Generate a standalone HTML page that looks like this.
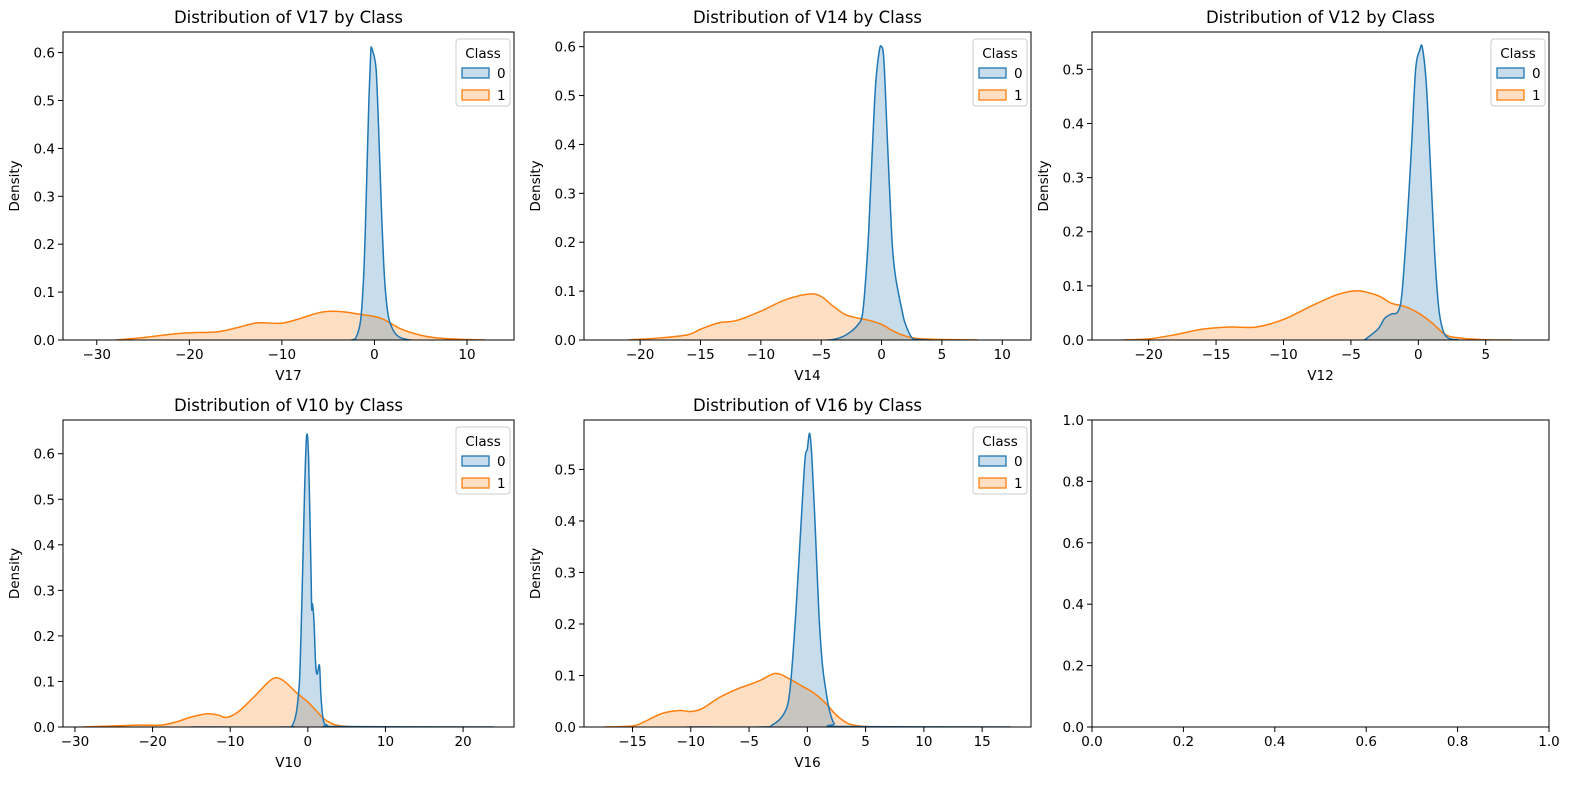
<!DOCTYPE html>
<html><head><meta charset="utf-8">
<style>
html,body{margin:0;padding:0;background:#fff;}
svg{display:block;font-family:"DejaVu Sans","Liberation Sans",sans-serif;}
</style></head>
<body>
<svg id="fig" width="1589" height="790" viewBox="0 0 1589 790"></svg>
<script>
// ---- Data ----
const v17_c0_x=[-2.5,-2,-1.5,-1.2,-1,-0.8,-0.6,-0.4,-0.3,-0.15,0,0.2,0.4,0.6,0.8,1,1.2,1.5,1.8,2.2,2.7,3.5,4];
const v17_c0_y=[0,0.005,0.04,0.12,0.22,0.36,0.5,0.6,0.61,0.6,0.59,0.56,0.47,0.36,0.25,0.16,0.1,0.05,0.03,0.015,0.006,0.001,0];
const v17_c1_x=[-28,-25,-22,-20,-17,-15,-13,-12,-10,-8,-6,-4.5,-3,-1,0,1,2,3,5,7,10,12];
const v17_c1_y=[0,0.005,0.012,0.015,0.017,0.025,0.035,0.036,0.035,0.045,0.057,0.06,0.058,0.052,0.049,0.043,0.032,0.022,0.01,0.004,0.001,0];

const v14_c0_x=[-4.5,-4,-3.2,-2.5,-2,-1.6,-1.34,-1.07,-0.8,-0.5,-0.2,0,0.2,0.5,0.85,1.1,1.4,1.7,1.94,2.5,3,4];
const v14_c0_y=[0,0.001,0.007,0.018,0.03,0.05,0.116,0.22,0.37,0.52,0.59,0.6,0.57,0.4,0.21,0.14,0.096,0.06,0.035,0.005,0.001,0];
const v14_c1_x=[-21,-18,-16,-15,-13.5,-12,-10,-8,-6,-5,-4,-3,-2,-1,0,1,2,3,5,8];
const v14_c1_y=[0,0.005,0.011,0.022,0.035,0.04,0.059,0.082,0.094,0.089,0.069,0.052,0.045,0.04,0.032,0.018,0.008,0.003,0.001,0];

const v12_c0_x=[-4,-3,-2.5,-2,-1.5,-1.2,-0.8,-0.5,-0.2,0.1,0.3,0.6,0.9,1.2,1.5,1.8,2.2,3];
const v12_c0_y=[0,0.02,0.04,0.048,0.053,0.09,0.23,0.36,0.5,0.535,0.54,0.47,0.32,0.166,0.062,0.02,0.004,0];
const v12_c1_x=[-22,-20,-18,-16,-14,-12,-10,-8,-6,-4.5,-3,-2,-1,0,1,2,3,5,7];
const v12_c1_y=[0,0.002,0.01,0.02,0.024,0.024,0.038,0.062,0.084,0.091,0.082,0.068,0.062,0.05,0.032,0.01,0.004,0.0005,0];

const v10_c0_x=[-15,-3,-2,-1.5,-1.2,-1,-0.7,-0.4,-0.15,0.1,0.4,0.5,0.6,0.8,1,1.2,1.5,1.7,2,2.5,4,24];
const v10_c0_y=[0,0,0.004,0.03,0.073,0.13,0.32,0.53,0.64,0.59,0.35,0.26,0.27,0.23,0.14,0.116,0.135,0.065,0.015,0.004,0.001,0];
const v10_c1_x=[-29,-22,-19,-17,-15,-13,-11.5,-10.5,-9,-7,-5,-4,-3,-1.5,0,1,2,3,4,6];
const v10_c1_y=[0,0.004,0.004,0.011,0.022,0.029,0.026,0.021,0.033,0.065,0.1,0.108,0.1,0.076,0.055,0.037,0.019,0.008,0.003,0];

const v16_c0_x=[-10.3,-4,-3,-2,-1.5,-1,-0.5,-0.2,0,0.2,0.4,0.7,1,1.3,1.6,1.9,2.3,3,17.5];
const v16_c0_y=[0,0,0.004,0.026,0.07,0.217,0.41,0.52,0.54,0.57,0.52,0.376,0.217,0.12,0.07,0.032,0.007,0.001,0];
const v16_c1_x=[-17.4,-15,-14,-12.5,-11,-10,-9,-7.5,-6,-5,-4,-2.7,-1.5,-0.5,0.5,1.5,2.5,3.5,4.5,6];
const v16_c1_y=[0,0.002,0.01,0.026,0.032,0.03,0.036,0.058,0.074,0.082,0.091,0.104,0.093,0.08,0.067,0.048,0.023,0.007,0.002,0];

const v17_xticks=[-30,-20,-10,0,10];
const v14_xticks=[-20,-15,-10,-5,0,5,10];
const v12_xticks=[-20,-15,-10,-5,0,5];
const v10_xticks=[-30,-20,-10,0,10,20];
const v16_xticks=[-15,-10,-5,0,5,10,15];
const d06_yticks=[0,0.1,0.2,0.3,0.4,0.5,0.6];
const d05_yticks=[0,0.1,0.2,0.3,0.4,0.5];
const unit_ticks=[0,0.2,0.4,0.6,0.8,1.0];

// ---- Layout ----
const NS="http://www.w3.org/2000/svg";
const svg=document.getElementById('fig');
function mk(tag,attrs,parent){const e=document.createElementNS(NS,tag);for(const k in attrs)e.setAttribute(k,attrs[k]);(parent||svg).appendChild(e);return e;}
function fmt(v,dec){let s=v.toFixed(dec);if(v<0)s='\u2212'+s.slice(1);return s;}

const panels=[
 {id:'v17',box:[63,32,514,340],xd:[-33.65,15.08],yd:[0,0.643],xt:v17_xticks,yt:d06_yticks,c0:[v17_c0_x,v17_c0_y],c1:[v17_c1_x,v17_c1_y],label:'V17'},
 {id:'v14',box:[584,32,1031,340],xd:[-24.65,12.38],yd:[0,0.630],xt:v14_xticks,yt:d06_yticks,c0:[v14_c0_x,v14_c0_y],c1:[v14_c1_x,v14_c1_y],label:'V14'},
 {id:'v12',box:[1092,32,1549,340],xd:[-24.2,9.69],yd:[0,0.569],xt:v12_xticks,yt:d05_yticks,c0:[v12_c0_x,v12_c0_y],c1:[v12_c1_x,v12_c1_y],label:'V12'},
 {id:'v10',box:[63,420,514,727],xd:[-31.54,26.56],yd:[0,0.674],xt:v10_xticks,yt:d06_yticks,c0:[v10_c0_x,v10_c0_y],c1:[v10_c1_x,v10_c1_y],label:'V10'},
 {id:'v16',box:[584,420,1031,727],xd:[-19.16,19.19],yd:[0,0.596],xt:v16_xticks,yt:d05_yticks,c0:[v16_c0_x,v16_c0_y],c1:[v16_c1_x,v16_c1_y],label:'V16'},
 {id:'empty',box:[1092,420,1549,727],xd:[0,1],yd:[0,1],xt:unit_ticks,yt:unit_ticks,empty:true}
];

function crPath(pts){
  let d='M'+pts[0][0].toFixed(2)+','+pts[0][1].toFixed(2);
  for(let i=0;i<pts.length-1;i++){
    const p0=pts[Math.max(0,i-1)],p1=pts[i],p2=pts[i+1],p3=pts[Math.min(pts.length-1,i+2)];
    const c1x=p1[0]+(p2[0]-p0[0])/6,c1y=p1[1]+(p2[1]-p0[1])/6;
    const c2x=p2[0]-(p3[0]-p1[0])/6,c2y=p2[1]-(p3[1]-p1[1])/6;
    d+=' C'+c1x.toFixed(2)+','+c1y.toFixed(2)+' '+c2x.toFixed(2)+','+c2y.toFixed(2)+' '+p2[0].toFixed(2)+','+p2[1].toFixed(2);
  }
  return d;
}

panels.forEach((p,pi)=>{
  const [L,T,R,B]=p.box;
  const sx=v=>L+(v-p.xd[0])/(p.xd[1]-p.xd[0])*(R-L);
  const sy=v=>B-(v-p.yd[0])/(p.yd[1]-p.yd[0])*(B-T);
  const g=mk('g',{});
  
  
  const cid='clip'+pi;
  const cp=mk('clipPath',{id:cid},g);mk('rect',{x:L,y:T,width:R-L,height:B-T},cp);

  if(!p.empty){
    const series=[[p.c1,'#ff7f0e','class-1'],[p.c0,'#1f77b4','class-0']];
    series.forEach(([s,col,nm])=>{
      const pts=s[0].map((x,i)=>[sx(x),Math.min(B,sy(s[1][i]))]);
      const line=crPath(pts);
      const area=mk('path',{d:line+' L'+pts[pts.length-1][0].toFixed(2)+','+B+' L'+pts[0][0].toFixed(2)+','+B+' Z',fill:col,'fill-opacity':0.25,stroke:'none','clip-path':'url(#'+cid+')'},g);
      
      
    });
    series.forEach(([s,col,nm])=>{
      const pts=s[0].map((x,i)=>[sx(x),Math.min(B,sy(s[1][i]))]);
      const ln=mk('path',{d:crPath(pts),fill:'none',stroke:col,'stroke-width':1.5,'clip-path':'url(#'+cid+')'},g);
      
      
    });
  }
  // spines
  const fr=mk('rect',{x:L,y:T,width:R-L,height:B-T,fill:'none',stroke:'#000','stroke-width':1},g);
  
  
  // x ticks
  p.xt.forEach(v=>{
    const x=sx(v);
    mk('line',{x1:x,y1:B,x2:x,y2:B+5,stroke:'#000','stroke-width':1},g);
    const t=mk('text',{x:x,y:B+19,'font-size':13.5,'text-anchor':'middle',fill:'#000'},g);
    t.textContent=p.empty?v.toFixed(1):fmt(v,0);
    
    
  });
  p.yt.forEach(v=>{
    const y=sy(v);
    mk('line',{x1:L-5,y1:y,x2:L,y2:y,stroke:'#000','stroke-width':1},g);
    const t=mk('text',{x:L-8,y:y+5,'font-size':13.5,'text-anchor':'end',fill:'#000'},g);
    t.textContent=v.toFixed(1);
    
    
  });
  if(!p.empty){
    const xl=mk('text',{x:(L+R)/2,y:B+40,'font-size':13.5,'text-anchor':'middle'},g);
    xl.textContent=p.label;
    
    
    const yl=mk('text',{x:0,y:0,'font-size':13.5,'text-anchor':'middle',transform:'translate('+(L-44)+','+((T+B)/2)+') rotate(-90)'},g);
    yl.textContent='Density';
    
    
    const ti=mk('text',{x:(L+R)/2,y:T-9,'font-size':16.5,'text-anchor':'middle'},g);
    ti.textContent='Distribution of '+p.label+' by Class';
    
    
    // legend
    const lg=mk('g',{},g);
    
    
    const lx=R-58,ly=T+7;
    mk('rect',{x:lx,y:ly,width:54,height:67,rx:3,fill:'#fff','fill-opacity':0.8,stroke:'#ccc','stroke-width':1},lg);
    const lt=mk('text',{x:lx+27,y:ly+19,'font-size':13.5,'text-anchor':'middle'},lg);
    lt.textContent='Class';
    [['0','#1f77b4',ly+27],['1','#ff7f0e',ly+49]].forEach(([lab,col,yy])=>{
      const e=mk('g',{},lg);
      
      
      mk('rect',{x:lx+6,y:yy+2,width:27,height:10,fill:col,'fill-opacity':0.25,stroke:col,'stroke-width':1.3},e);
      const tt=mk('text',{x:lx+41,y:yy+12,'font-size':13.5},e);
      tt.textContent=lab;
    });
  }
});
</script>
</body></html>
